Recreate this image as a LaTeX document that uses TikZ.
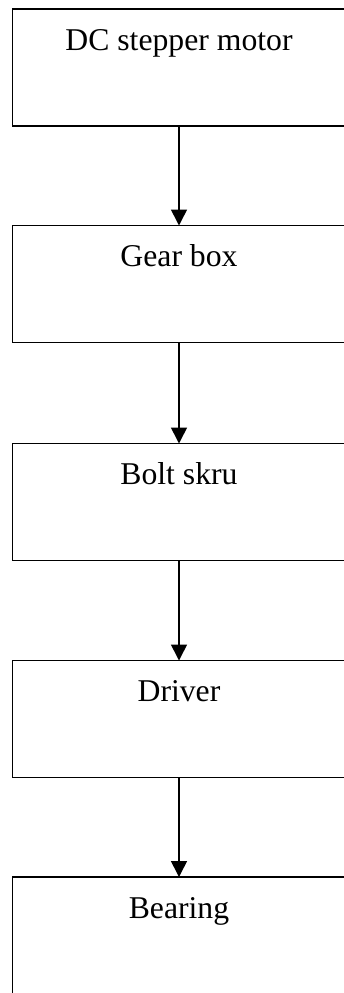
\documentclass[tikz,border=0pt]{standalone}
\usepackage{fontspec}
\setmainfont{Liberation Serif}
\usetikzlibrary{arrows.meta}
\begin{document}
\begin{tikzpicture}[x=1pt,y=-1pt,
  blockbox/.style={draw=black,line width=1.6pt,minimum width=333pt,minimum height=117pt,inner sep=0pt,outer sep=0pt,fill=white},
  blocktext/.style={anchor=base,font=\fontsize{31.7}{38}\selectfont,inner sep=0pt},
  flowarrow/.style={line width=1.6pt,-{Triangle[width=16pt,length=16pt]}}]
\useasboundingbox (0,0) rectangle (344,993);
\clip (0,0) rectangle (344,993);
\node[blockbox] (b1) at (179,67.5) {};
\node[blockbox] (b2) at (179,284) {};
\node[blockbox] (b3) at (179,502) {};
\node[blockbox] (b4) at (179,719) {};
\node[blockbox] (b5) at (179,935.5) {};
\node[blocktext] (t1) at ([yshift=-41pt]b1.north) {DC stepper motor};
\node[blocktext] (t2) at ([yshift=-41pt]b2.north) {Gear box};
\node[blocktext] (t3) at ([yshift=-41pt]b3.north) {Bolt skru};
\node[blocktext] (t4) at ([yshift=-41pt]b4.north) {Driver};
\node[blocktext] (t5) at ([yshift=-41pt]b5.north) {Bearing};
\draw[flowarrow] (b1.south) -- (b2.north);
\draw[flowarrow] (b2.south) -- (b3.north);
\draw[flowarrow] (b3.south) -- (b4.north);
\draw[flowarrow] (b4.south) -- (b5.north);
\end{tikzpicture}
\end{document}
